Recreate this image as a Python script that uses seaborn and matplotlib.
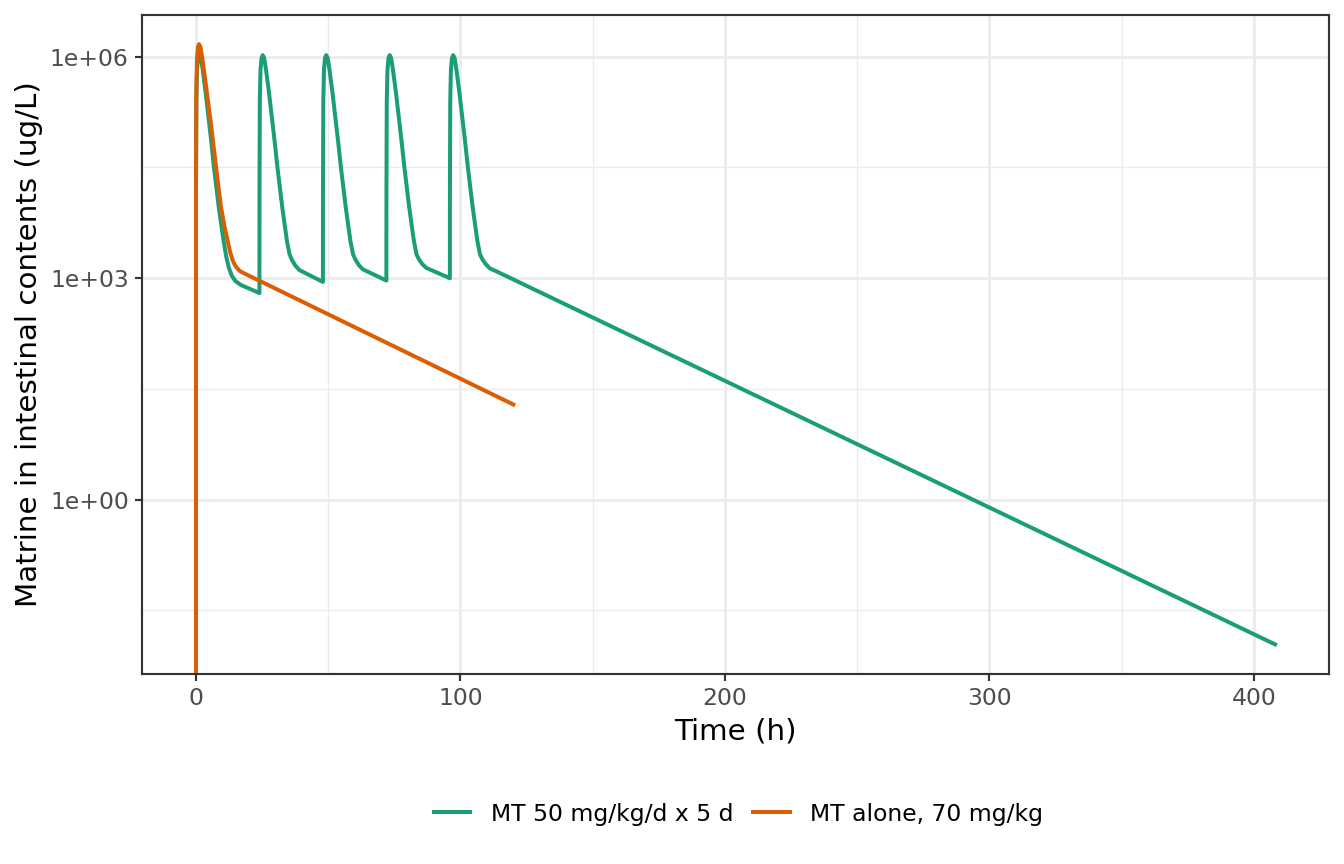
import numpy as np
import pandas as pd
import matplotlib
matplotlib.use("Agg")
import matplotlib.pyplot as plt
import matplotlib.ticker as mticker
import seaborn as sns

# ---------------- data ----------------
series_names = ["MT 50 mg/kg/d x 5 d", "MT alone, 70 mg/kg"]
series_colors = ["#1B9E77", "#D95F02"]

green_time = [
    0.0, 0.02, 0.15, 0.4, 0.8, 1.25, 1.8, 2.5, 3.6, 5.7, 6.8, 8.6, 10.4, 11.4, 12.4, 13.6, 15.0, 17.0, 24.0,
    24.03, 24.15, 24.4, 24.8, 25.25, 25.8, 26.5, 27.6, 29.7, 30.8, 32.6, 34.4, 35.4, 36.4, 37.6, 39.1, 48.0,
    48.03, 48.15, 48.4, 48.8, 49.25, 49.8, 50.5, 51.6, 53.7, 54.8, 56.6, 58.4, 59.4, 60.4, 61.6, 63.1, 72.0,
    72.03, 72.15, 72.4, 72.8, 73.25, 73.8, 74.5, 75.6, 77.7, 78.8, 80.6, 82.4, 83.4, 84.4, 85.6, 87.1, 96.0,
    96.03, 96.15, 96.4, 96.8, 97.25, 97.8, 98.5, 99.6, 101.7, 102.8, 104.6, 106.4, 107.4, 108.4, 109.6, 111.1,
    114.0, 408.0,
]
green_conc = [
    0.0, 1.6e4, 2.5e5, 6.6e5, 9.8e5, 1.1e6, 1.0e6, 6.9e5, 3.4e5, 7.6e4, 3.2e4, 9.3e3, 3.3e3, 2.0e3, 1.4e3, 1.07e3, 910, 810, 630,
    1.6e4, 2.5e5, 6.6e5, 9.6e5, 1.05e6, 9.6e5, 6.6e5, 3.3e5, 7.4e4, 3.2e4, 9.3e3, 3.2e3, 2.1e3, 1.74e3, 1.48e3, 1.29e3, 890,
    1.6e4, 2.5e5, 6.6e5, 9.6e5, 1.05e6, 9.6e5, 6.6e5, 3.3e5, 7.4e4, 3.2e4, 9.3e3, 3.2e3, 2.1e3, 1.76e3, 1.5e3, 1.32e3, 930,
    1.6e4, 2.5e5, 6.6e5, 9.6e5, 1.05e6, 9.6e5, 6.6e5, 3.3e5, 7.4e4, 3.2e4, 9.3e3, 3.2e3, 2.1e3, 1.78e3, 1.55e3, 1.38e3, 1.0e3,
    1.6e4, 2.5e5, 6.6e5, 9.6e5, 1.05e6, 9.6e5, 6.6e5, 3.3e5, 7.4e4, 3.2e4, 9.3e3, 3.2e3, 2.1e3, 1.78e3, 1.55e3, 1.36e3,
    1.22e3, 0.011,
]

orange_time = [0.0, 0.02, 0.15, 0.4, 0.75, 1.15, 1.7, 2.4, 3.4, 5.7, 7.6, 9.4, 10.8, 12.0, 13.0, 14.0,
               15.0, 16.5, 18.1, 120.0]
orange_conc = [0.0, 2.5e4, 4.0e5, 9.5e5, 1.35e6, 1.48e6, 1.35e6, 9.5e5, 5.2e5, 1.2e5, 3.2e4, 9.5e3, 5.0e3,
               3.2e3, 2.2e3, 1.7e3, 1.45e3, 1.26e3, 1.17e3, 19.5]

x_ticks = [0, 100, 200, 300, 400]
x_tick_labels = ["0", "100", "200", "300", "400"]
x_minor = [50, 150, 250, 350]
y_ticks = [1.0, 1e3, 1e6]
y_tick_labels = ["1e+00", "1e+03", "1e+06"]
y_minor = [10 ** -1.5, 10 ** 1.5, 10 ** 4.5]

df = pd.concat([
    pd.DataFrame({"time": green_time, "conc": green_conc, "group": series_names[0]}),
    pd.DataFrame({"time": orange_time, "conc": orange_conc, "group": series_names[1]}),
], ignore_index=True)

# ---------------- figure ----------------
plt.rcParams["font.family"] = ["DejaVu Sans"]
fig = plt.figure(figsize=(7, 4.5), dpi=192)
ax = fig.add_axes([142 / 1344, 1 - 674 / 864, (1329 - 142) / 1344, (674 - 15) / 864])

line_w = 1.5
sns.lineplot(data=df, x="time", y="conc", hue="group", hue_order=series_names,
             palette=series_colors, estimator=None, sort=False, linewidth=line_w,
             ax=ax, legend=False)

ax.set_yscale("log")
ax.set_xlim(-20.4, 428.4)
ax.set_ylim(10 ** -2.36, 10 ** 6.565)

ax.xaxis.set_major_locator(mticker.FixedLocator(x_ticks))
ax.xaxis.set_major_formatter(mticker.FixedFormatter(x_tick_labels))
ax.xaxis.set_minor_locator(mticker.FixedLocator(x_minor))
ax.yaxis.set_major_locator(mticker.FixedLocator(y_ticks))
ax.yaxis.set_major_formatter(mticker.FixedFormatter(y_tick_labels))
ax.yaxis.set_minor_locator(mticker.FixedLocator(y_minor))
ax.yaxis.set_minor_formatter(mticker.NullFormatter())

ax.set_axisbelow(True)
ax.grid(which="major", color="#EBEBEB", linewidth=1.0)
ax.grid(which="minor", color="#EBEBEB", linewidth=0.5)
for s in ax.spines.values():
    s.set_color("#333333")
    s.set_linewidth(0.8)
ax.tick_params(which="major", length=2.75, width=0.8, color="#333333", pad=2.2,
               labelsize=8.8, labelcolor="#4D4D4D")
ax.tick_params(which="minor", length=0)

ax.set_xlabel("Time (h)", fontsize=11, labelpad=2.75)
ax.set_ylabel("Matrine in intestinal contents (ug/L)", fontsize=11, labelpad=2.75)

handles = [plt.Line2D([], [], color=c, linewidth=line_w) for c in series_colors]
fig.legend(handles, series_names, loc="center", bbox_to_anchor=(738.5 / 1344, 1 - 814 / 864),
           ncol=2, frameon=False, fontsize=8.8, handlelength=1.57, handletextpad=0.89,
           columnspacing=0.81)

fig.savefig("out.png", dpi=192, facecolor="white")
